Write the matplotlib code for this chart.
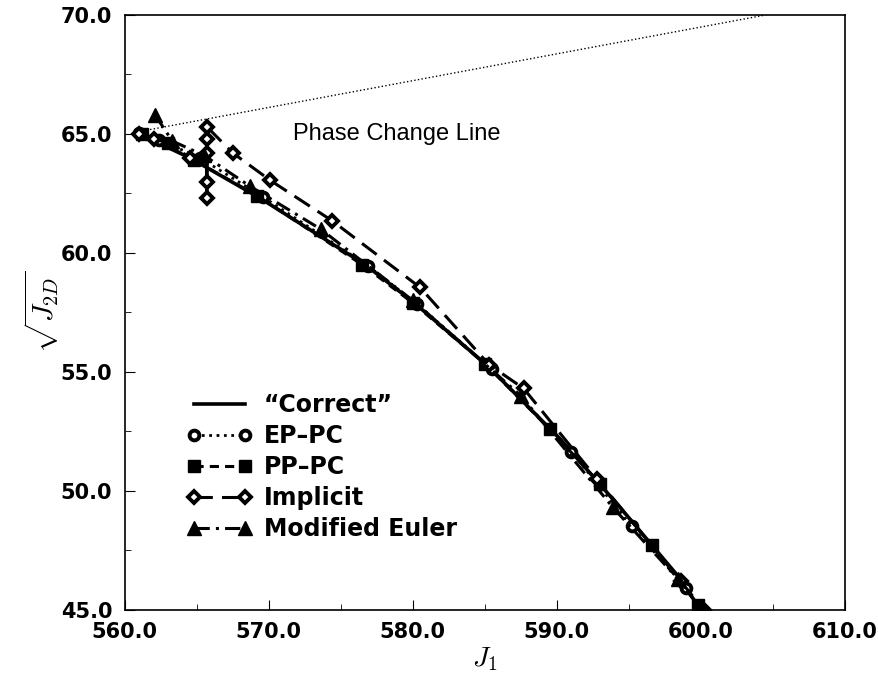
import numpy as np
import matplotlib
matplotlib.use('Agg')
import matplotlib.pyplot as plt

plt.rcParams['font.family'] = ['Liberation Sans', 'DejaVu Sans']
plt.rcParams['mathtext.fontset'] = 'cm'

# stress paths in J1 - sqrt(J2D) space
correct_x = [561.0, 564.5, 569.4, 576.7, 580.1, 585.2, 590.2, 594.4, 598.3, 600.0]
correct_y = [65.0, 64.0, 62.3, 59.5, 57.9, 55.25, 52.2, 49.3, 46.5, 45.0]

eppc_x = [561.0, 562.4, 565.2, 569.6, 576.9, 580.3, 585.5, 591.0, 595.2, 599.0]
eppc_y = [65.05, 64.75, 64.0, 62.35, 59.45, 57.85, 55.1, 51.65, 48.5, 45.9]

pppc_x = [561.2, 563.0, 564.8, 569.2, 576.5, 580.0, 585.0, 589.5, 593.0, 596.6, 599.8]
pppc_y = [65.0, 64.6, 63.9, 62.4, 59.5, 57.9, 55.35, 52.6, 50.3, 47.7, 45.2]

impl_x = [561.0, 562.0, 564.5, 565.7, 565.7, 565.7, 565.7, 565.7, 567.5, 570.1, 574.4,
          580.5, 585.3, 587.7, 592.8, 598.6, 600.2]
impl_y = [65.0, 64.8, 64.0, 64.2, 62.3, 63.0, 64.8, 65.3, 64.2, 63.05, 61.35,
          58.55, 55.3, 54.3, 50.5, 46.2, 45.0]

me_x = [562.1, 563.3, 565.5, 568.7, 573.6, 580.0, 587.5, 593.9, 598.4, 600.0]
me_y = [65.8, 64.7, 64.1, 62.8, 61.0, 58.0, 54.0, 49.3, 46.3, 45.1]

phase_x = [561.0, 604.5]
phase_y = [65.1, 70.0]

xticks = np.arange(560, 611, 10)
yticks = np.arange(45, 71, 5)

fig = plt.figure(figsize=(8.79, 6.82), dpi=100)
ax = fig.add_axes([0.142, 0.106, 0.819, 0.872])

ax.plot(phase_x, phase_y, color='black', linestyle=':', linewidth=1.0)
ax.text(571.7, 65.0, 'Phase Change Line', fontsize=17, va='center', ha='left')

ax.plot(correct_x, correct_y, color='black', linestyle='-', linewidth=2.6, label='\u201cCorrect\u201d')
ax.plot(eppc_x, eppc_y, color='black', linestyle=':', linewidth=2.0, marker='o',
        markersize=7, markerfacecolor='white', markeredgewidth=2.8, label='EP\u2013PC')
ax.plot(pppc_x, pppc_y, color='black', linestyle=(0, (3, 2)), linewidth=2.2, marker='s',
        markersize=8, label='PP\u2013PC')
ax.plot(impl_x, impl_y, color='black', linestyle=(0, (6, 3)), linewidth=2.2, marker='D',
        markersize=6.5, markerfacecolor='white', markeredgewidth=2.8, label='Implicit')
ax.plot(me_x, me_y, color='black', linestyle=(0, (5, 2, 1, 2)), linewidth=2.2, marker='^',
        markersize=10, label='Modified Euler')

ax.set_xlim(560, 610)
ax.set_ylim(45, 70)
ax.set_xticks(xticks)
ax.set_xticks(np.arange(565, 610, 10), minor=True)
ax.set_yticks(yticks)
ax.set_yticks(np.arange(47.5, 70, 5), minor=True)
ax.set_xticklabels(['%.1f' % v for v in xticks])
ax.set_yticklabels(['%.1f' % v for v in yticks])
ax.tick_params(which='both', direction='in', labelsize=15)
ax.tick_params(axis='x', which='major', pad=9)
ax.tick_params(axis='y', which='major', pad=9)
ax.tick_params(which='major', length=7)
ax.tick_params(which='minor', length=4)
for lab in ax.get_xticklabels() + ax.get_yticklabels():
    lab.set_fontweight('bold')
    lab.set_family('DejaVu Sans')
for sp in ax.spines.values():
    sp.set_linewidth(1.2)

ax.set_xlabel('$J_1$', fontsize=20, labelpad=2)
ax.set_ylabel('$\\sqrt{J_{2D}}$', fontsize=21, labelpad=0)

leg = ax.legend(loc='center left', bbox_to_anchor=(0.057, 0.24), frameon=False,
                prop={'size': 17, 'weight': 'bold', 'family': 'DejaVu Sans'},
                handlelength=2.75, labelspacing=0.3, handletextpad=0.5, numpoints=2)

fig.savefig('out.png', dpi=100)
